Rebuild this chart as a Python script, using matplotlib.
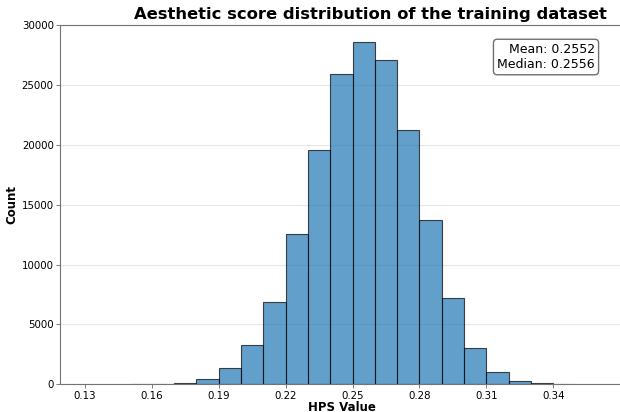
import numpy as np
from matplotlib import pyplot as plt

# histogram, bin width 0.01
bin_edges = [0.15, 0.16, 0.17, 0.18, 0.19, 0.20, 0.21, 0.22, 0.23, 0.24, 0.25,
             0.26, 0.27, 0.28, 0.29, 0.30, 0.31, 0.32, 0.33, 0.34, 0.35]
counts = [20, 30, 108, 417, 1335, 3280, 6845, 12570, 19560, 25960,
          28600, 27130, 21290, 13770, 7180, 3030, 1000, 275, 80, 20]
x_ticks = [0.13, 0.16, 0.19, 0.22, 0.25, 0.28, 0.31, 0.34]
mean_val = 0.2552
median_val = 0.2556


def main():
    fig = plt.figure(figsize=(6.2, 4.12), dpi=100)
    # right edge of the axes runs just past the figure, as in the reference
    ax = fig.add_axes([0.0968, 0.0672, 0.908, 0.872])

    ax.hist(bin_edges[:-1], bins=bin_edges, weights=counts,
            color="#1f77b4", alpha=0.7, edgecolor="black", linewidth=0.8)

    ax.set_xlim(0.11878, 0.3713)
    ax.set_xticks(x_ticks)
    ax.set_xticklabels([f"{t:.2f}" for t in x_ticks])
    ax.tick_params(labelsize=7.4, length=3, width=0.6, color="0.4", pad=1.5)
    ax.grid(axis="y", alpha=0.3)
    ax.set_axisbelow(True)
    ax.spines["right"].set_visible(False)
    for s in ax.spines.values():
        s.set_color("0.45")
        s.set_linewidth(0.8)

    # title sits right of the axes centre in the reference
    ax.set_title("Aesthetic score distribution of the training dataset",
                 fontsize=11.8, fontweight="bold", pad=4, x=0.5506)
    ax.set_xlabel("HPS Value", fontsize=8.5, fontweight="bold", labelpad=0)
    ax.set_ylabel("Count", fontsize=8.5, fontweight="bold", labelpad=2)

    ax.text(0.95, 0.95, f"Mean: {mean_val:.4f}\nMedian: {median_val:.4f}",
            transform=ax.transAxes, ha="right", va="top", fontsize=9,
            bbox=dict(boxstyle="round", facecolor="white", edgecolor="0.3", alpha=0.8))

    fig.savefig("out.png", dpi=100)


if __name__ == '__main__':
    main()
